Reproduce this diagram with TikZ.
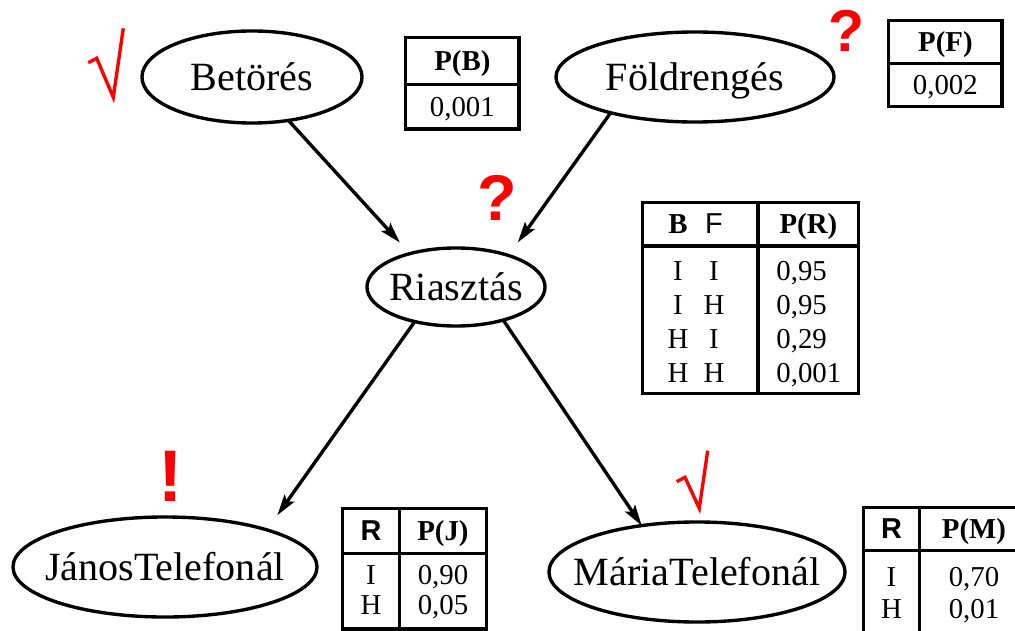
\documentclass[tikz,border=0pt]{standalone}
\usepackage{fontspec}
\setmainfont{Liberation Serif}
\setsansfont{Liberation Sans}
\usepackage{array}
\usetikzlibrary{shapes.geometric,arrows.meta}

% probability tables
\setlength{\tabcolsep}{0pt}
\setlength{\arrayrulewidth}{2.4pt}
\renewcommand{\arraystretch}{0.4}
\newcolumntype{C}[1]{>{\centering\arraybackslash}p{#1}}
\newcommand{\rw}[2]{\rule[-#2]{0pt}{\dimexpr#1+#2\relax}}
\newcommand{\nm}[1]{\makebox[1.6cm][l]{#1}}

\begin{document}
\begin{tikzpicture}[x=0.025cm,y=-0.025cm,inner sep=0pt,outer sep=0pt,line width=2.4pt,
>={Stealth[length=0.52cm,width=0.3cm,inset=0.1cm]},
event/.style={draw,ellipse,text height=0.66cm,text depth=0pt,font=\fontsize{28.5}{34}\selectfont},
cpt/.style={anchor=north west,font=\fontsize{20.5}{24}\selectfont},
flag/.style={text=red,font=\sffamily\bfseries},
chk/.style={draw=red,line width=2.4pt}]

\useasboundingbox (0,0) rectangle (1015,631);
\clip (0,0) rectangle (1015,631);

\draw (252,77) node[event,minimum width=5.5cm,minimum height=2.3cm] (bet) {\makebox[0pt]{Betörés}};
\draw (695,77) node[event,minimum width=6.95cm,minimum height=2.25cm] (fold) {\makebox[0pt]{Földrengés}};
\draw (456,287) node[event,minimum width=4.45cm,minimum height=1.95cm] (rias) {\makebox[0pt]{Riasztás}};
\draw (165,567) node[event,minimum width=7.6cm,minimum height=2.5cm] (janos) {\makebox[0pt]{JánosTelefonál}};
\draw (697,572) node[event,minimum width=7.4cm,minimum height=2.5cm] (maria) {\makebox[0pt]{MáriaTelefonál}};

\draw[->,shorten >=0.375cm] (bet.310) -- (rias.144);
\draw[->,shorten >=0.4cm] (fold.203) -- (rias.31);
\draw[->,shorten >=0.45cm] (rias.220) -- (janos.20);
\draw[->] (rias.325) -- (maria.140);

\draw (404,36) node[cpt] (pb) {\begin{tabular}{|C{2.75cm}|}\hline
\rw{0.78cm}{0.30cm}\textbf{P(B)}\\\hline
\rw{0.755cm}{0.275cm}0,001\\\hline
\end{tabular}};

\draw (887,19) node[cpt] (pf) {\begin{tabular}{|C{2.75cm}|}\hline
\rw{0.73cm}{0.25cm}\textbf{P(F)}\\\hline
\rw{0.74cm}{0.26cm}0,002\\\hline
\end{tabular}};

\draw (641,201) node[cpt] (pr) {\begin{tabular}{|@{\hspace{0.565cm}}C{0.55cm}@{\hspace{0.35cm}}C{0.55cm}@{\hspace{0.785cm}}|C{2.43cm}|}\hline
\rw{0.74cm}{0.26cm}\textbf{B} & \textsf{F} & \textbf{P(R)}\\\hline
\rw{0.83cm}{0.185cm}I & I & \nm{0,95}\\
\rw{0.665cm}{0.185cm}I & H & \nm{0,95}\\
\rw{0.665cm}{0.185cm}H & I & \nm{0,29}\\
\rw{0.665cm}{0.225cm}H & H & \nm{0,001}\\\hline
\end{tabular}};

\draw (341,507) node[cpt] (pj) {\begin{tabular}{|C{1.33cm}|C{2.1cm}|}\hline
\rw{0.755cm}{0.275cm}\textsf{\textbf{R}} & \textbf{P(J)}\\\hline
\rw{0.73cm}{0.135cm}I & 0,90\\
\rw{0.615cm}{0.325cm}H & 0,05\\\hline
\end{tabular}};

\draw (862,506) node[cpt] (pm) {\begin{tabular}{|C{1.305cm}|C{2.65cm}|}\hline
\rw{0.73cm}{0.25cm}\textsf{\textbf{R}} & \textbf{P(M)}\\\hline
\rw{0.855cm}{0.16cm}I & 0,70\\
\rw{0.64cm}{0.31cm}H & 0,01\\\hline
\end{tabular}};

% red notes
\draw (497,198) node[flag,font=\fontsize{46}{50}\sffamily\bfseries] (q1) {?};
\draw (847,31) node[flag,font=\fontsize{42}{46}\sffamily\bfseries] (q2) {?};
\draw (171,476) node[flag,font=\fontsize{52}{56}\sffamily\bfseries] (ex) {!};
\draw[chk] (88.3,62.7) -- (96.7,58.3) -- (113.3,97.3) -- (123.3,28.3);
\draw[chk] (676.7,481.7) -- (685,477.3) -- (699.3,508.3) -- (707.7,450.7);
\end{tikzpicture}
\end{document}
